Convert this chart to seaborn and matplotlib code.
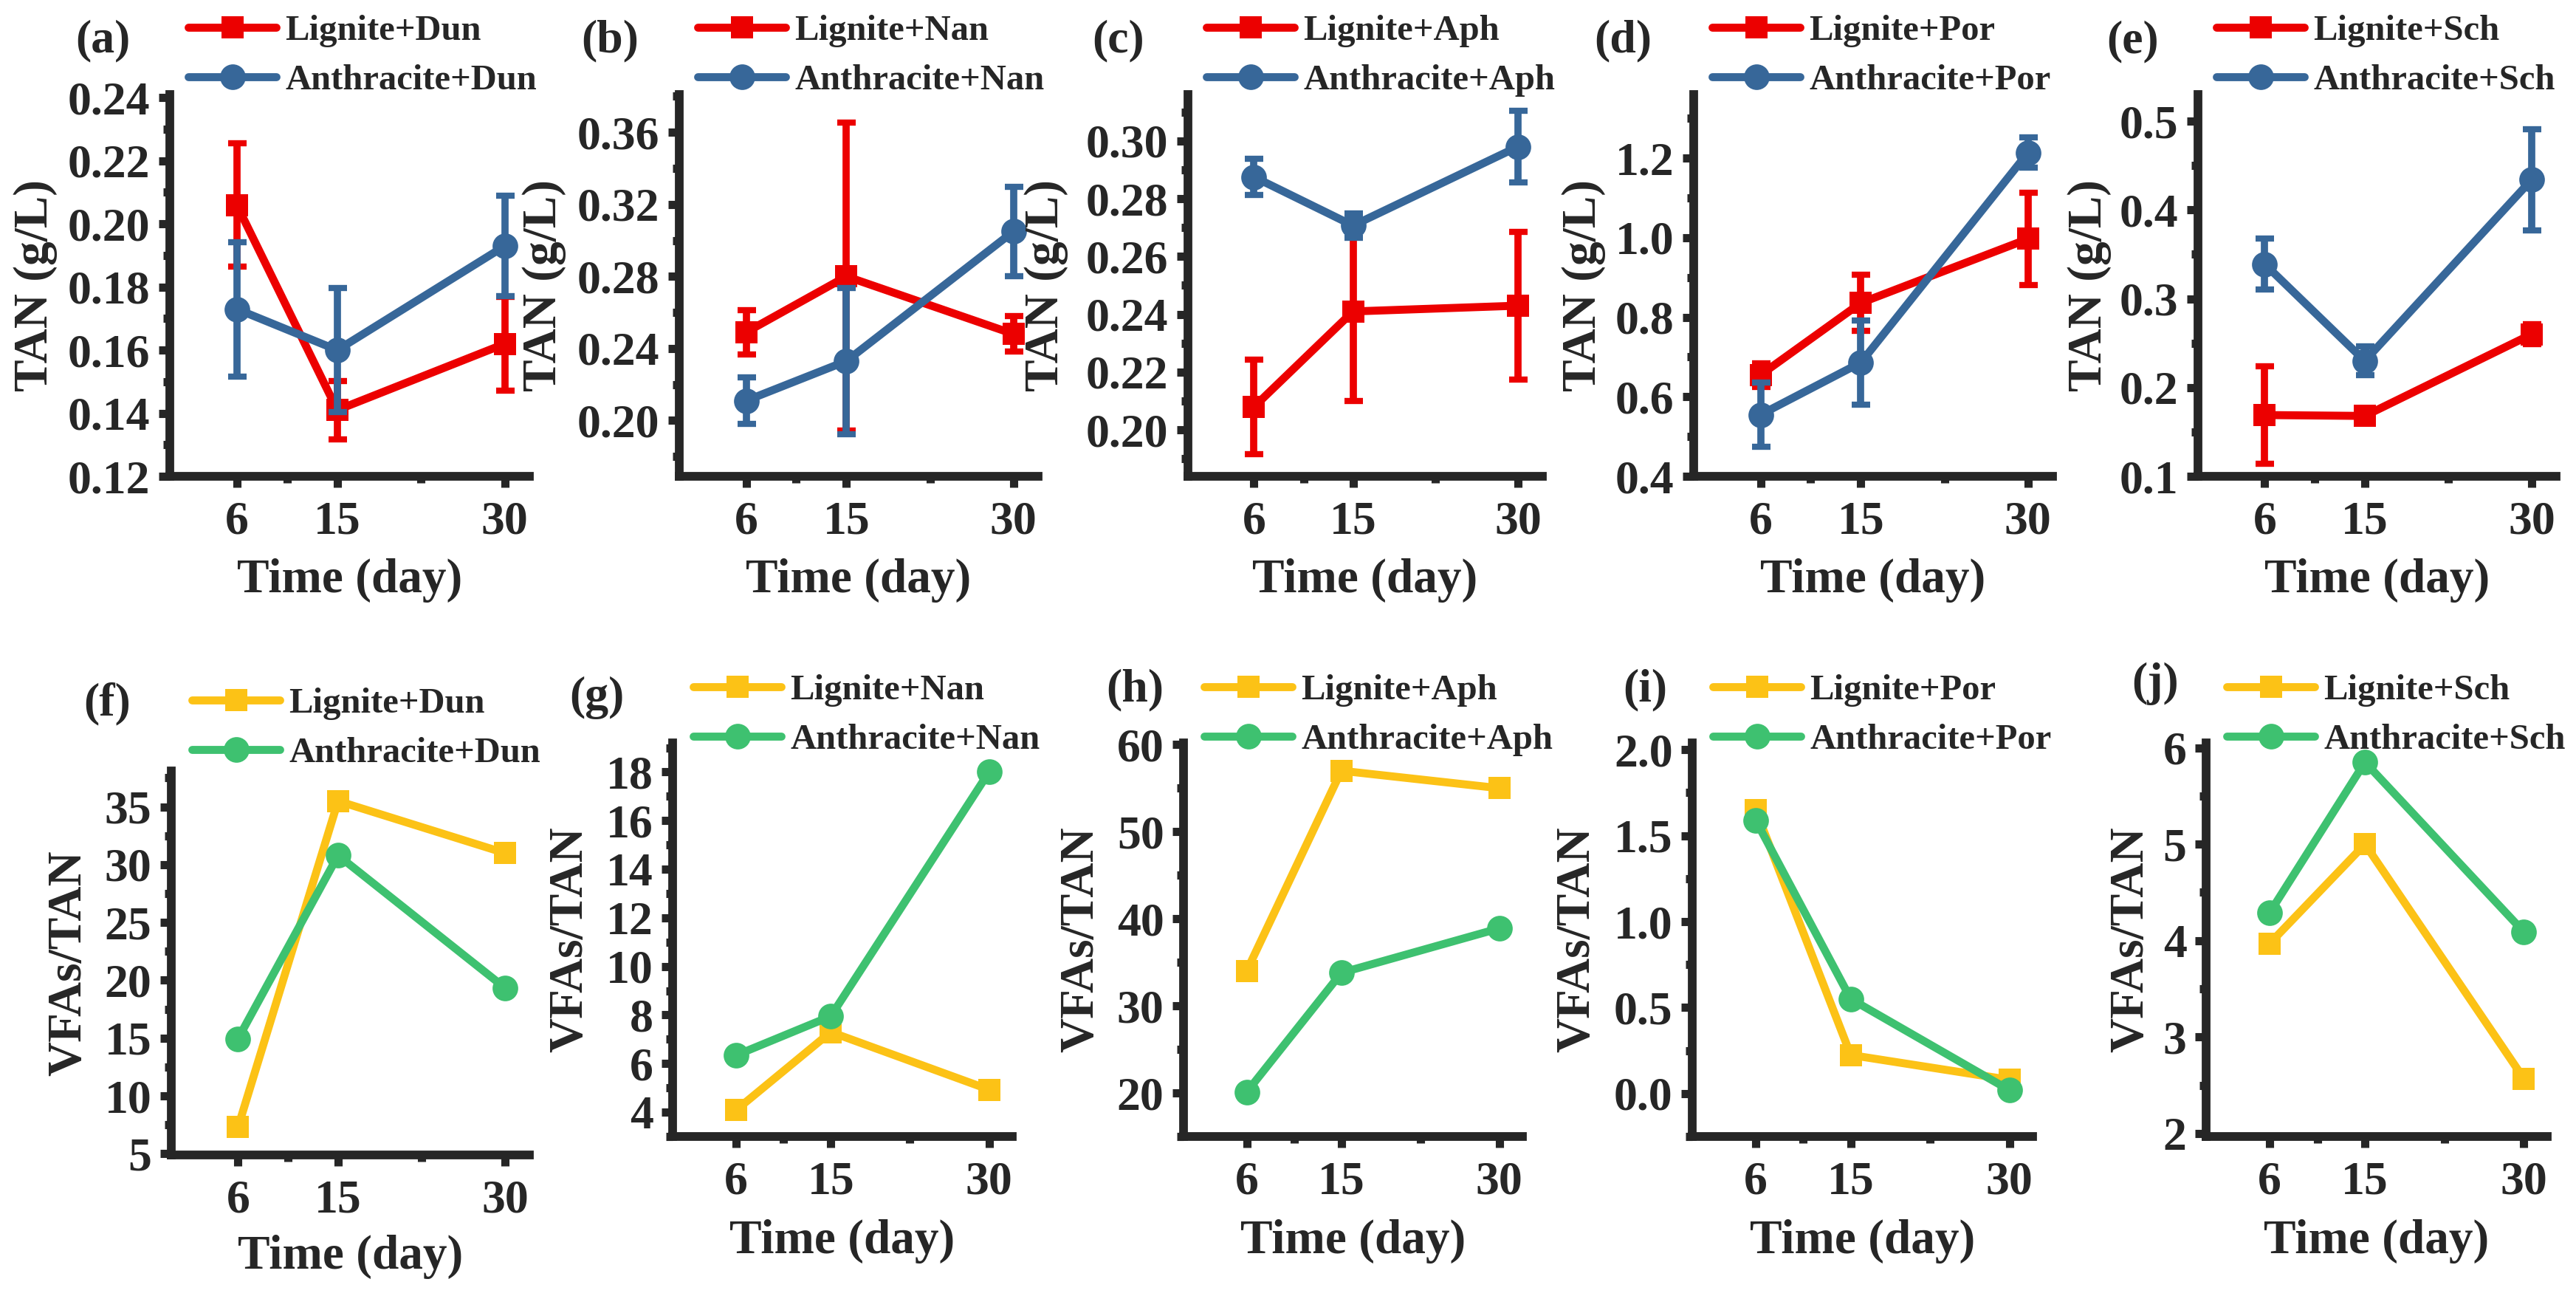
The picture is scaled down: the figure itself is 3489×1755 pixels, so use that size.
import matplotlib
matplotlib.use("Agg")
import matplotlib.pyplot as plt
from matplotlib.lines import Line2D
from matplotlib.ticker import MultipleLocator, FixedLocator, FuncFormatter
import pandas as pd
import seaborn as sns

days = [6, 15, 30]
additives = ["Dun", "Nan", "Aph", "Por", "Sch"]
top_tags = ["(a)", "(b)", "(c)", "(d)", "(e)"]
bottom_tags = ["(f)", "(g)", "(h)", "(i)", "(j)"]

# TAN (g/L), mean and error bar half-length per additive
tan_lignite = [[0.206, 0.141, 0.162], [0.249, 0.280, 0.248], [0.208, 0.241, 0.243],
               [0.655, 0.836, 0.997], [0.169, 0.168, 0.260]]
tan_lignite_err = [[0.0195, 0.0093, 0.0148], [0.0123, 0.0855, 0.0098], [0.0164, 0.031, 0.0255],
                   [0.030, 0.070, 0.116], [0.055, 0.006, 0.011]]
tan_anthracite = [[0.173, 0.160, 0.193], [0.211, 0.233, 0.305], [0.2875, 0.2707, 0.298],
                  [0.555, 0.686, 1.214], [0.339, 0.230, 0.434]]
tan_anthracite_err = [[0.0213, 0.0196, 0.016], [0.013, 0.0405, 0.0248], [0.0062, 0.0043, 0.0125],
                      [0.080, 0.106, 0.038], [0.0285, 0.016, 0.057]]

# VFAs/TAN ratio
ratio_lignite = [[7.3, 35.5, 31.0], [4.08, 7.3, 4.93], [34.0, 57.0, 55.0],
                 [1.65, 0.224, 0.08], [3.97, 5.0, 2.57]]
ratio_anthracite = [[14.95, 30.8, 19.35], [6.34, 7.95, 18.0], [20.1, 33.8, 38.9],
                    [1.59, 0.55, 0.02], [4.29, 5.85, 4.09]]

RED, BLUE = "#EC0000", "#376799"
YELLOW, GREEN = "#FCC216", "#3EC170"

sns.set_style("ticks")
plt.rcParams["font.family"] = ["Liberation Serif", "DejaVu Serif"]
plt.rcParams["font.weight"] = "bold"
plt.rcParams["axes.labelweight"] = "bold"

W, H = 3489, 1755
fig = plt.figure(figsize=(W / 100, H / 100), dpi=100)

# pixel boxes: left, top, width, height
top_boxes = [(230, 128, 487, 517), (920, 128, 486, 517), (1609, 128, 480, 517),
             (2294, 128, 486, 517), (2977, 128, 485, 517)]
bottom_boxes = [(232, 1044, 485, 520), (911, 1006, 460, 533), (1603, 1006, 459, 533),
                (2292, 1006, 461, 533), (2988, 1006, 462, 533)]
top_ylim = [(0.12, 0.241), (0.169, 0.381), (0.184, 0.316), (0.4, 1.36), (0.1, 0.53)]
top_ystep = [0.02, 0.04, 0.02, 0.2, 0.1]
top_yfmt = ["%.2f", "%.2f", "%.2f", "%.1f", "%.1f"]
top_ylab_x = [-0.374, -0.377, -0.40, -0.307, -0.303]
bottom_ylim = [(4.9, 38.1), (3.0, 19.2), (15, 60.2), (-0.25, 2.04), (1.97, 6.05)]
bottom_ystep = [5, 2, 10, 0.5, 1]
bottom_yfmt = ["%d", "%d", "%d", "%.1f", "%d"]
bottom_ylab_x = [-0.287, -0.302, -0.303, -0.338, -0.22]
top_tag_pos = [(139, 55), (826, 55), (1515, 55), (2198, 55), (2889, 56)]
bottom_tag_pos = [(145, 953), (808, 945), (1537, 934), (2228, 934), (2919, 926)]

LW = 7.8
MS_SQ, MS_O = 22, 25


def make_ax(box):
    l, t, w, h = box
    return fig.add_axes([l / W, 1 - (t + h) / H, w / W, h / H])


def style_ax(ax, ylim, ystep, yfmt, ylabel, ylab_x, xlab_y):
    sns.despine(ax=ax)
    for s in ["left", "bottom"]:
        ax.spines[s].set_linewidth(8.5)
    ax.set_xlim(0, 32.2)
    ax.set_xticks(days)
    ax.xaxis.set_minor_locator(FixedLocator([10.5, 22.5]))
    ax.set_ylim(*ylim)
    ax.yaxis.set_major_locator(MultipleLocator(ystep))
    ax.yaxis.set_minor_locator(MultipleLocator(ystep / 2))
    ax.yaxis.set_major_formatter(FuncFormatter(lambda v, p: yfmt % (v + 0.0)))
    ax.tick_params(which="major", length=11, width=8, labelsize=46)
    ax.tick_params(which="minor", length=6.5, width=8)
    ax.tick_params(axis="x", which="major", pad=13)
    ax.tick_params(axis="y", which="major", pad=8)
    ax.set_xlabel("Time (day)", fontsize=47, va="center")
    ax.xaxis.set_label_coords(0.5, xlab_y)
    ax.set_ylabel(ylabel, fontsize=47, va="center")
    ax.yaxis.set_label_coords(ylab_x, 0.5)


def legend(ax, labels, colors, x, y):
    handles = [
        Line2D([], [], color=colors[0], lw=LW, marker="s", ms=MS_SQ, mew=0,
               solid_capstyle="round"),
        Line2D([], [], color=colors[1], lw=LW, marker="o", ms=MS_O, mew=0,
               solid_capstyle="round"),
    ]
    ax.legend(handles, labels, loc="upper left", bbox_to_anchor=(x / W, 1 - y / H),
              bbox_transform=fig.transFigure, frameon=False, fontsize=35,
              borderpad=0, borderaxespad=0, handlelength=2.45, handletextpad=0.25,
              labelspacing=0.47)


# top row: TAN with error bars
for i, add in enumerate(additives):
    box = top_boxes[i]
    ax = make_ax(box)
    df = pd.DataFrame({"day": days, "lig": tan_lignite[i], "ant": tan_anthracite[i]})
    ax.errorbar(days, tan_lignite[i], yerr=tan_lignite_err[i], fmt="none", ecolor=RED,
                elinewidth=7, capsize=9, capthick=6, zorder=2)
    sns.lineplot(data=df, x="day", y="lig", color=RED, lw=LW, marker="s", ms=MS_SQ,
                 mew=0, ax=ax, zorder=3)
    ax.errorbar(days, tan_anthracite[i], yerr=tan_anthracite_err[i], fmt="none", ecolor=BLUE,
                elinewidth=7, capsize=9, capthick=6, zorder=4)
    sns.lineplot(data=df, x="day", y="ant", color=BLUE, lw=LW, marker="o", ms=MS_O,
                 mew=0, ax=ax, zorder=5)
    style_ax(ax, top_ylim[i], top_ystep[i], top_yfmt[i], "TAN (g/L)", top_ylab_x[i], -0.273)
    legend(ax, ["Lignite+" + add, "Anthracite+" + add], [RED, BLUE], box[0] + 25, 20)
    fig.text(top_tag_pos[i][0] / W, 1 - top_tag_pos[i][1] / H, top_tags[i],
             fontsize=46, ha="center", va="center")

# bottom row: VFAs/TAN
for i, add in enumerate(additives):
    box = bottom_boxes[i]
    ax = make_ax(box)
    df = pd.DataFrame({"day": days, "lig": ratio_lignite[i], "ant": ratio_anthracite[i]})
    sns.lineplot(data=df, x="day", y="lig", color=YELLOW, lw=LW, marker="s", ms=MS_SQ,
                 mew=0, ax=ax, zorder=3)
    sns.lineplot(data=df, x="day", y="ant", color=GREEN, lw=LW, marker="o", ms=MS_O,
                 mew=0, ax=ax, zorder=4)
    xlab_y = -0.265 if i == 0 else -0.267
    style_ax(ax, bottom_ylim[i], bottom_ystep[i], bottom_yfmt[i], "VFAs/TAN",
             bottom_ylab_x[i], xlab_y)
    leg_top = 931 if i == 0 else 913
    legend(ax, ["Lignite+" + add, "Anthracite+" + add], [YELLOW, GREEN], box[0] + 28, leg_top)
    fig.text(bottom_tag_pos[i][0] / W, 1 - bottom_tag_pos[i][1] / H, bottom_tags[i],
             fontsize=46, ha="center", va="center")

fig.savefig("out.png", dpi=100)
